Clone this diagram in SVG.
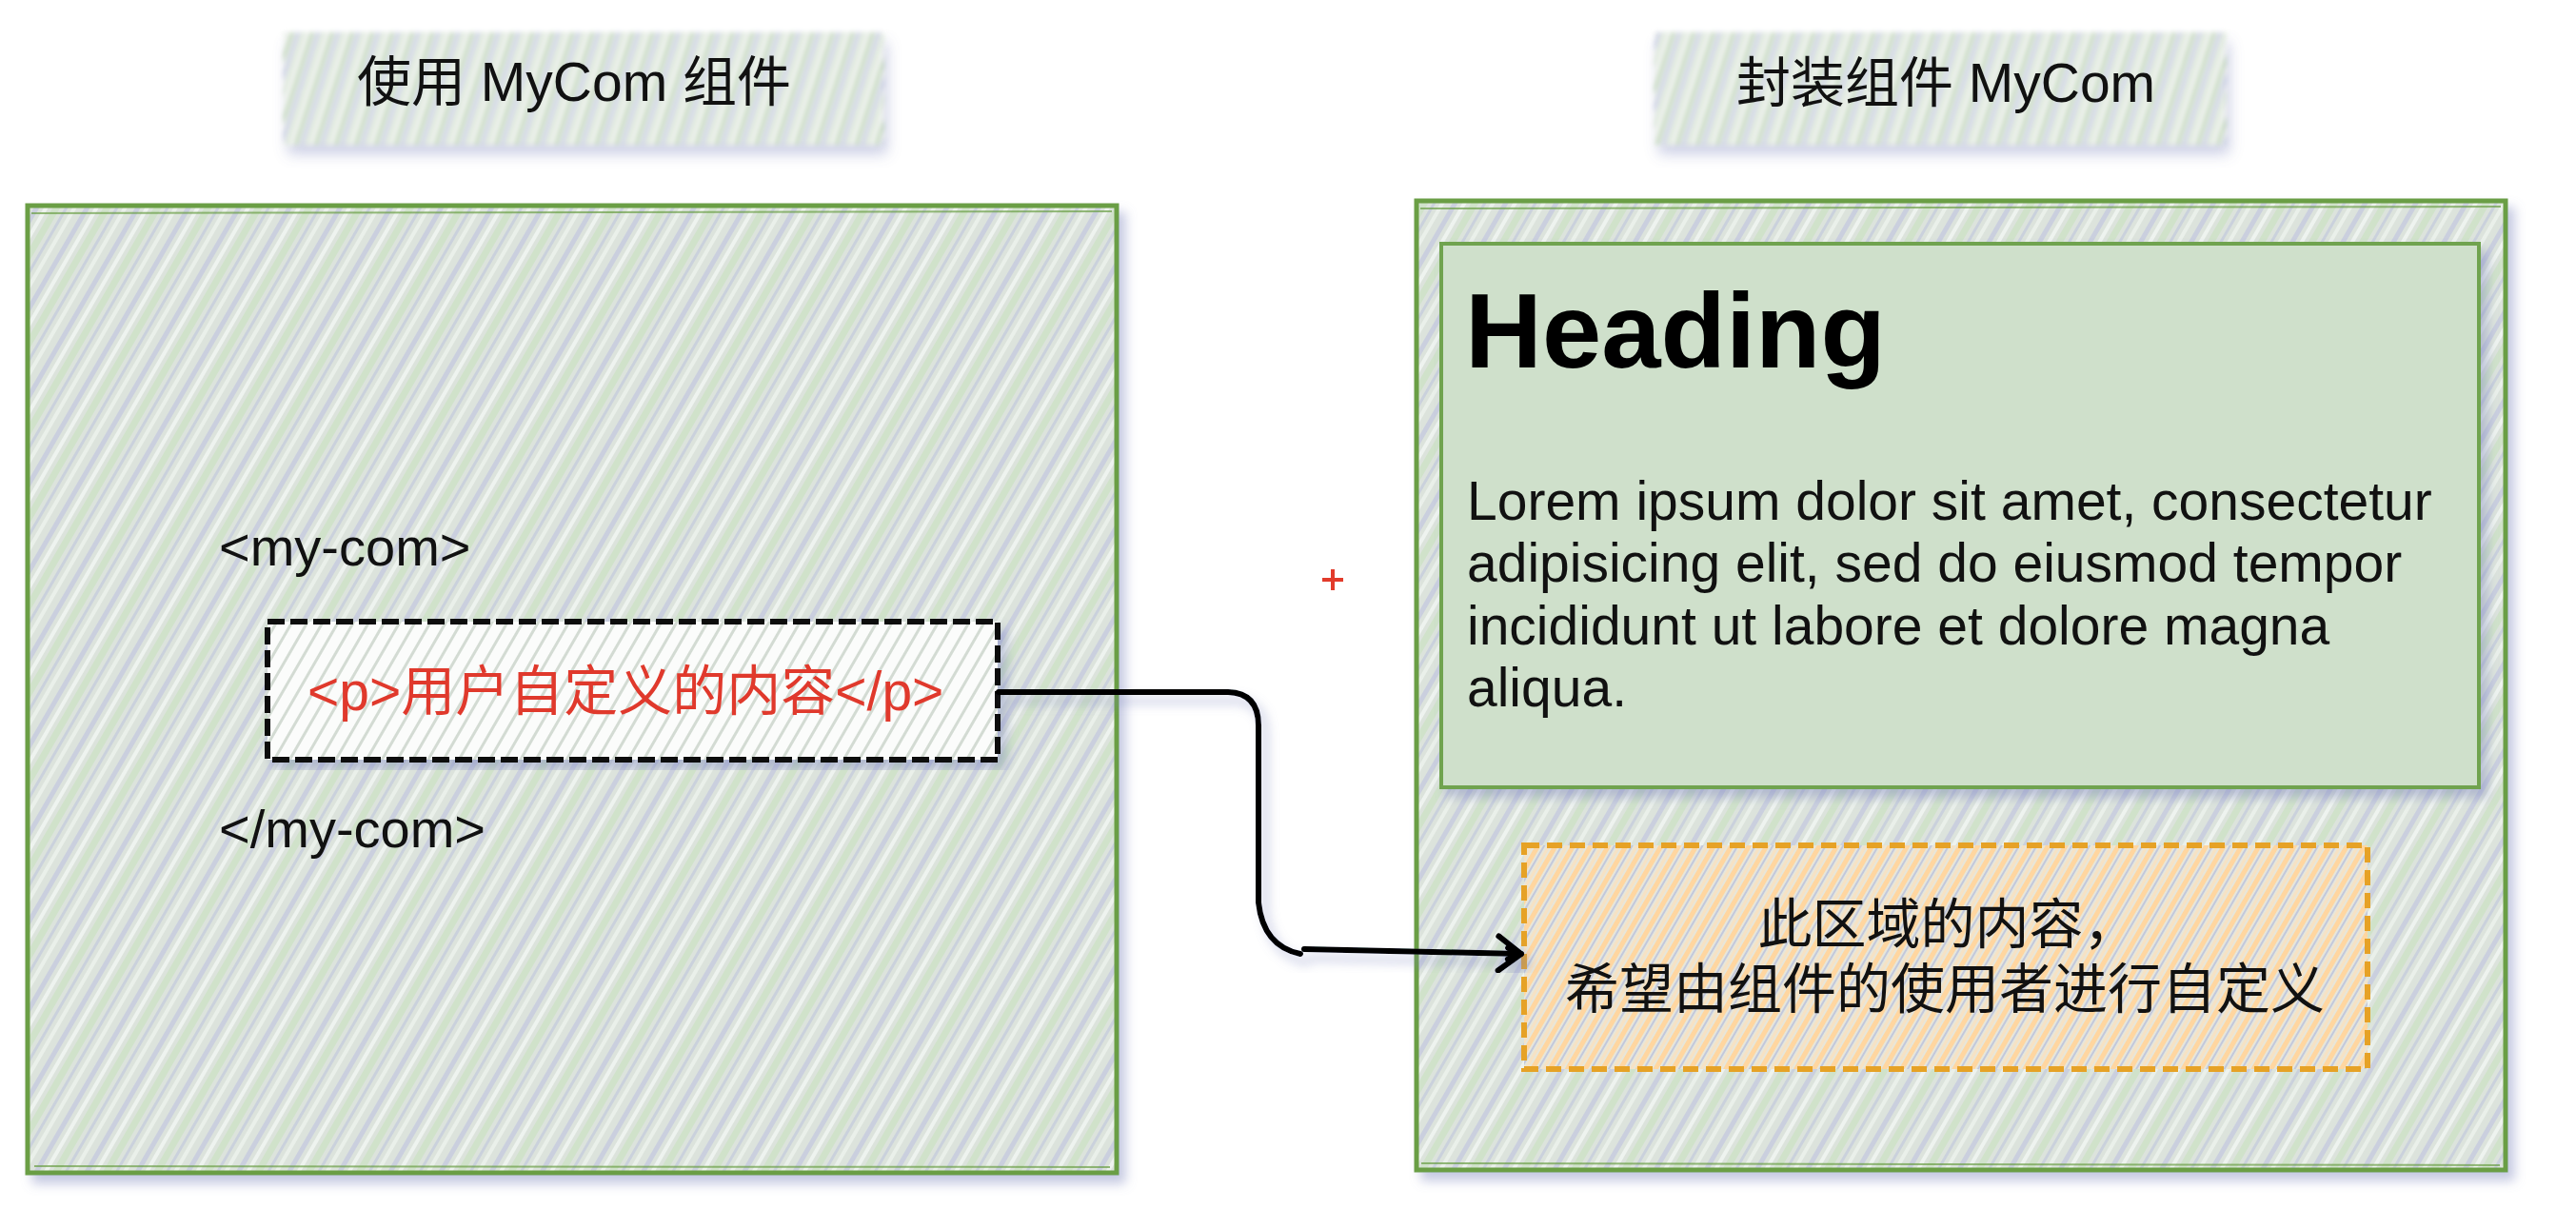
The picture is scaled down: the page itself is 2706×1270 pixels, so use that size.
<svg xmlns="http://www.w3.org/2000/svg" width="2706" height="1270" viewBox="0 0 2706 1270">
<style>
.t{font-family:"Liberation Sans","Noto Sans CJK SC",sans-serif;fill:#111;}
.title{font-size:57px;}
.code{font-size:56px;}
.red{font-size:57px;fill:#e0392c;}
.body{font-size:57px;}
.head{font-size:112px;font-weight:bold;fill:#000;}
.cjk{font-size:57px;}
.big{fill:url(#hatchBig);stroke:#6a9e45;stroke-width:5;filter:url(#shadow);}
.big2{fill:none;stroke:#6a9e45;stroke-width:2;opacity:.7;}
.conn{fill:none;stroke:#000;stroke-width:6;stroke-linecap:round;stroke-linejoin:round;}
</style>
<defs>
<pattern id="hatchBig" width="46" height="46" patternUnits="userSpaceOnUse" patternTransform="rotate(30)">
<rect width="46" height="46" fill="#dce3dc"/>
<rect x="2" width="5" height="46" fill="#c5cbdf" opacity=".8"/>
<rect x="11" width="4" height="46" fill="#eef3ef"/>
<rect x="19" width="7" height="46" fill="#d0e2ca"/>
<rect x="30" width="3" height="46" fill="#bec5dc" opacity=".6"/>
<rect x="37" width="4" height="46" fill="#eaf0ea"/>
</pattern>
<pattern id="hatchWhite" width="14" height="14" patternUnits="userSpaceOnUse" patternTransform="rotate(30)">
<rect width="14" height="14" fill="#fbfcfb"/>
<rect x="3" width="3" height="14" fill="#d3dbd3"/>
</pattern>
<pattern id="hatchOrange" width="16" height="16" patternUnits="userSpaceOnUse" patternTransform="rotate(30)">
<rect width="16" height="16" fill="#e7e6da"/>
<rect x="1" width="5" height="16" fill="#ffd6a0"/>
<rect x="8" width="2" height="16" fill="#c2c8dc"/>
<rect x="12" width="3" height="16" fill="#f6e2c4"/>
</pattern>
<pattern id="hatchTitle" width="20" height="20" patternUnits="userSpaceOnUse" patternTransform="rotate(18)">
<rect width="20" height="20" fill="#eef2ee"/>
<rect x="1" width="3" height="20" fill="#a9c99b"/>
<rect x="7" width="3" height="20" fill="#b3bbd9"/>
<rect x="13" width="2" height="20" fill="#c6dcbd"/>
</pattern>
<filter id="shadow" x="-5%" y="-5%" width="112%" height="112%">
<feDropShadow dx="7" dy="9" stdDeviation="6" flood-color="#7f88bd" flood-opacity=".45"/>
</filter>
<filter id="blur" x="-10%" y="-20%" width="120%" height="160%">
<feGaussianBlur in="SourceGraphic" stdDeviation="2.5" result="b"/>
<feDropShadow in="b" dx="4" dy="10" stdDeviation="7" flood-color="#8a92c4" flood-opacity=".5"/>
</filter>
<marker id="arrow" viewBox="-30 -25 40 50" refX="0" refY="0" markerWidth="40" markerHeight="50" markerUnits="userSpaceOnUse" orient="auto" overflow="visible">
<path d="M-24,-18 L0,0 L-24,18 M-14,-6 L-4,0 L-14,6" fill="none" stroke="#000" stroke-width="6" stroke-linecap="round" stroke-linejoin="round"/>
</marker>
</defs>

<g id="title-left">
<rect x="298" y="34" width="630" height="118" fill="url(#hatchTitle)" filter="url(#blur)" opacity=".85"/>
<text class="t title" x="603" y="106" text-anchor="middle">使用 MyCom 组件</text>
</g>

<g id="title-right">
<rect x="1738" y="34" width="600" height="118" fill="url(#hatchTitle)" filter="url(#blur)" opacity=".85"/>
<text class="t title" x="2044" y="107" text-anchor="middle">封装组件 MyCom</text>
</g>

<g id="use-mycom">
<rect class="big" x="29" y="216" width="1144" height="1016"/>
<path class="big2" d="M33,224 L1168,222 M36,1225 L1166,1226"/>
<text class="t code" x="230" y="594">&lt;my-com&gt;</text>
<text class="t code" x="230" y="890">&lt;/my-com&gt;</text>
</g>

<g id="slot-content">
<rect x="281" y="653" width="767" height="145" fill="url(#hatchWhite)" stroke="#111" stroke-width="6" stroke-dasharray="18 6" filter="url(#shadow)"/>
<text class="t red" x="323" y="746">&lt;p&gt;用户自定义的内容&lt;/p&gt;</text>
</g>

<g id="mycom">
<rect class="big" x="1488" y="211" width="1144" height="1018"/>
<path class="big2" d="M1492,219 L2627,217 M1493,1222 L2626,1224"/>
</g>

<g id="heading-box">
<rect x="1514" y="256" width="1090" height="571" fill="#cfe0cb" stroke="#6fa34f" stroke-width="4" filter="url(#shadow)"/>
<text class="t head" x="1539" y="386">Heading</text>
<text class="t body" x="1541" y="546">Lorem ipsum dolor sit amet, consectetur</text>
<text class="t body" x="1541" y="611">adipisicing elit, sed do eiusmod tempor</text>
<text class="t body" x="1541" y="677">incididunt ut labore et dolore magna</text>
<text class="t body" x="1541" y="742">aliqua.</text>
</g>

<g id="slot-area">
<rect x="1601" y="888" width="886" height="235" fill="url(#hatchOrange)" stroke="#e6a226" stroke-width="6" stroke-dasharray="16 8"/>
<text class="t cjk" x="2046" y="991" text-anchor="middle">此区域的内容，</text>
<text class="t cjk" x="2043" y="1059" text-anchor="middle">希望由组件的使用者进行自定义</text>
</g>

<g id="cursor-mark">
<path d="M1389,609 H1411 M1400,598 V620" stroke="#e23b2b" stroke-width="4"/>
</g>

<g id="connectors">
<path class="conn" filter="url(#shadow)" d="M1049,727 H1290 Q1322,728 1322,762 V948 Q1327,994 1366,1002 M1370,997 L1598,1002" marker-end="url(#arrow)"/>
</g>
</svg>
